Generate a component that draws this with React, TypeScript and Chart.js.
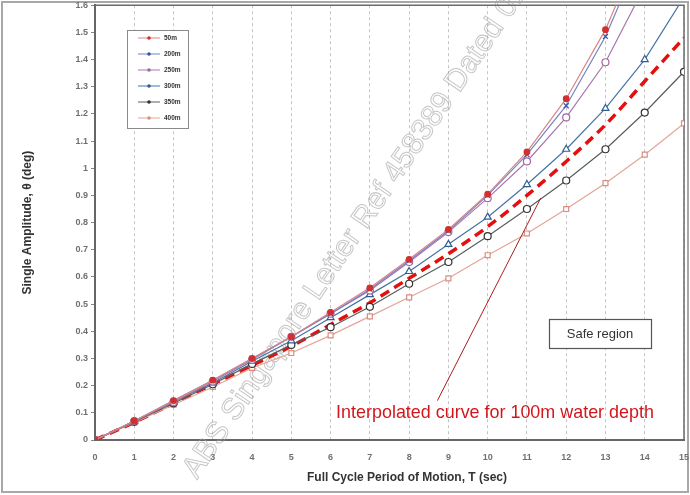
import React, { useEffect, useRef } from 'react';
import { Chart, registerables } from 'chart.js';
Chart.register(...registerables);

const periods = [0, 1, 2, 3, 4, 5, 6, 7, 8, 9, 10, 11, 12, 13, 14, 15];
const depthLabels = ['50m', '200m', '250m', '300m', '350m', '400m'];
const amp50 = [0, 0.07, 0.145, 0.22, 0.30, 0.38, 0.47, 0.56, 0.665, 0.775, 0.905, 1.06, 1.256, 1.51, 1.85];
const amp200 = [0, 0.07, 0.145, 0.22, 0.30, 0.38, 0.465, 0.555, 0.66, 0.77, 0.90, 1.05, 1.23, 1.485, 1.82];
const amp250 = [0, 0.07, 0.14, 0.215, 0.295, 0.38, 0.465, 0.55, 0.655, 0.765, 0.89, 1.025, 1.187, 1.39, 1.67];
const amp300 = [0, 0.068, 0.14, 0.21, 0.29, 0.365, 0.45, 0.535, 0.62, 0.72, 0.82, 0.94, 1.07, 1.22, 1.40, 1.63];
const amp350 = [0, 0.067, 0.135, 0.205, 0.28, 0.35, 0.415, 0.49, 0.575, 0.655, 0.75, 0.85, 0.955, 1.07, 1.205, 1.355];
const amp400 = [0, 0.065, 0.13, 0.195, 0.265, 0.32, 0.385, 0.455, 0.525, 0.595, 0.68, 0.76, 0.85, 0.945, 1.05, 1.165];
const amp100Interp = [0, 0.065, 0.135, 0.205, 0.275, 0.345, 0.425, 0.505, 0.595, 0.685, 0.785, 0.90, 1.025, 1.16, 1.32, 1.48];

const yTickValues = [0, 0.1, 0.2, 0.3, 0.4, 0.5, 0.6, 0.7, 0.8, 0.9, 1, 1.1, 1.2, 1.3, 1.4, 1.5, 1.6];
const yTickLabels = ['0', '0.1', '0.2', '0.3', '0.4', '0.5', '0.6', '0.7', '0.8', '0.9', '1', '1.1', '1.2', '1.3', '1.4', '1.5', '1.6'];
const xTickLabels = ['0', '1', '2', '3', '4', '5', '6', '7', '8', '9', '10', '11', '12', '13', '14', '15'];

const xTitle = 'Full Cycle Period of Motion, T (sec)';
const yTitle = 'Single Amplitude, \u03B8 (deg)';
const interpNote = 'Interpolated curve for 100m water depth';
const safeNote = 'Safe region';
const watermark = 'ABS Singapore Letter Ref 458389 Dated 01';

const seriesStyles = [
  { line: '#d98585', pt: '#d23030', fill: '#d23030', style: 'circle', r: 2.8 },
  { line: '#7484c2', pt: '#3555a5', fill: '#3555a5', style: 'crossRot', r: 3.5 },
  { line: '#a876ae', pt: '#a565a5', fill: '#ffffff', style: 'circle', r: 3.5 },
  { line: '#4674a4', pt: '#2f5f92', fill: '#ffffff', style: 'triangle', r: 4 },
  { line: '#56605f', pt: '#333333', fill: '#ffffff', style: 'circle', r: 3.5 },
  { line: '#e3a696', pt: '#d98e7e', fill: '#ffffff', style: 'rect', r: 3.5 },
];

export default function App() {
  const ref = useRef<HTMLCanvasElement>(null);
  useEffect(() => {
    const toPts = (vals: number[]) => vals.map((v, i) => ({ x: periods[i], y: v }));
    const all = [amp50, amp200, amp250, amp300, amp350, amp400];
    const datasets: any[] = all.map((vals, i) => ({
      label: depthLabels[i],
      data: toPts(vals),
      borderColor: seriesStyles[i].line,
      borderWidth: 1.2,
      pointStyle: seriesStyles[i].style,
      pointRadius: seriesStyles[i].r,
      pointBorderColor: seriesStyles[i].pt,
      pointBackgroundColor: seriesStyles[i].fill,
      pointBorderWidth: 1.2,
      tension: 0,
      fill: false,
    }));
    datasets.push({
      label: '100m (interpolated)',
      data: toPts(amp100Interp),
      borderColor: '#e31010',
      borderWidth: 3.5,
      borderDash: [10, 6],
      pointRadius: 0,
      tension: 0.35,
      cubicInterpolationMode: 'monotone',
      fill: false,
    });

    const decor = {
      id: 'decor',
      beforeDraw(chart: any) {
        const ctx = chart.ctx;
        ctx.save();
        ctx.fillStyle = '#ffffff';
        ctx.fillRect(0, 0, chart.width, chart.height);
        ctx.strokeStyle = '#a8a8a8';
        ctx.lineWidth = 2;
        ctx.strokeRect(2, 2, chart.width - 4, chart.height - 5);
        ctx.restore();
      },
      beforeDatasetsDraw(chart: any) {
        const ctx = chart.ctx;
        const a = chart.chartArea;
        ctx.save();
        ctx.translate(197, 480);
        ctx.rotate(-Math.atan2(460, 312));
        ctx.font = '30px Arial';
        const w = ctx.measureText('ABS Singapore Letter Ref 458389 Dated').width;
        const size = (30 * 548) / w;
        ctx.font = `${size}px Arial`;
        ctx.strokeStyle = 'rgba(160,160,160,0.6)';
        ctx.lineWidth = 1;
        ctx.textBaseline = 'alphabetic';
        ctx.strokeText(watermark, 0, 0);
        ctx.restore();
        ctx.save();
        ctx.strokeStyle = '#6a6a6a';
        ctx.lineWidth = 1.5;
        ctx.beginPath();
        ctx.moveTo(a.left, a.top);
        ctx.lineTo(a.right, a.top);
        ctx.lineTo(a.right, a.bottom);
        ctx.stroke();
        ctx.restore();
      },
      afterDatasetsDraw(chart: any) {
        const ctx = chart.ctx;
        const xs = chart.scales.x;
        const ys = chart.scales.y;
        ctx.save();
        ctx.fillStyle = '#ffffff';
        ctx.fillRect(127, 30, 61, 98);
        ctx.strokeStyle = '#8a8a8a';
        ctx.lineWidth = 1;
        ctx.strokeRect(127.5, 30.5, 61, 98);
        chart.data.datasets.slice(0, 6).forEach((ds: any, i: number) => {
          const y = 38 + 16 * i;
          ctx.strokeStyle = ds.borderColor;
          ctx.lineWidth = 1;
          ctx.beginPath();
          ctx.moveTo(138, y);
          ctx.lineTo(160, y);
          ctx.stroke();
          ctx.fillStyle = ds.pointBorderColor;
          ctx.beginPath();
          ctx.arc(149, y, 1.8, 0, Math.PI * 2);
          ctx.fill();
          ctx.fillStyle = '#333333';
          ctx.font = 'bold 6.5px Arial';
          ctx.textAlign = 'left';
          ctx.textBaseline = 'middle';
          ctx.fillText(ds.label, 164, y);
        });
        ctx.fillStyle = '#ffffff';
        ctx.fillRect(549, 319, 102, 29);
        ctx.strokeStyle = '#555555';
        ctx.lineWidth = 1.2;
        ctx.strokeRect(549.5, 319.5, 102, 29);
        ctx.fillStyle = '#333333';
        ctx.font = '13px Arial';
        ctx.textAlign = 'center';
        ctx.textBaseline = 'middle';
        ctx.fillText(safeNote, 600, 334);
        ctx.strokeStyle = '#a82020';
        ctx.lineWidth = 1;
        ctx.beginPath();
        ctx.moveTo(xs.getPixelForValue(8.72), ys.getPixelForValue(0.145));
        ctx.lineTo(xs.getPixelForValue(11.35), ys.getPixelForValue(0.89));
        ctx.stroke();
        ctx.font = '15px Arial';
        const tw = ctx.measureText(interpNote).width;
        ctx.font = `${(15 * 318) / tw}px Arial`;
        ctx.fillStyle = '#d4161c';
        ctx.textAlign = 'center';
        ctx.textBaseline = 'middle';
        ctx.fillText(interpNote, 495, 413);
        ctx.fillStyle = '#333333';
        ctx.font = 'bold 12px Arial';
        ctx.fillText(xTitle, 407, 478);
        ctx.restore();
      },
    };

    const chart = new Chart(ref.current as HTMLCanvasElement, {
      type: 'line',
      data: { datasets },
      options: {
        animation: false,
        responsive: false,
        layout: { padding: { top: 4, right: 6, left: 0, bottom: 0 } },
        plugins: { legend: { display: false }, tooltip: { enabled: false } },
        scales: {
          x: {
            type: 'linear',
            min: 0,
            max: 15,
            afterBuildTicks: (s: any) => {
              s.ticks = periods.map((v) => ({ value: v }));
            },
            afterFit: (s: any) => {
              s.height = 55;
              s.paddingLeft = 0;
              s.paddingRight = 0;
            },
            ticks: {
              callback: (v: any) => xTickLabels[periods.indexOf(Number(v))],
              font: { family: 'Arial', size: 9, weight: 'bold' },
              color: '#707070',
              padding: 12,
              maxRotation: 0,
              autoSkip: false,
            },
            grid: { color: '#c4c4c4', lineWidth: 1, drawTicks: false },
            border: { color: '#666666', width: 2, dash: [3, 3] },
          },
          y: {
            min: 0,
            max: 1.6,
            afterBuildTicks: (s: any) => {
              s.ticks = yTickValues.map((v) => ({ value: v }));
            },
            afterFit: (s: any) => {
              s.width = 95;
              s.paddingTop = 0;
              s.paddingBottom = 0;
            },
            ticks: {
              callback: (v: any, i: number) => yTickLabels[i],
              font: { family: 'Arial', size: 9, weight: 'bold' },
              color: '#707070',
              padding: 3,
              autoSkip: false,
            },
            grid: { drawOnChartArea: false, drawTicks: true, tickLength: 4, color: '#888888' },
            border: { color: '#666666', width: 2 },
            title: {
              display: true,
              text: yTitle,
              font: { family: 'Arial', size: 12, weight: 'bold' },
              color: '#333333',
              padding: { top: 20, bottom: 0 },
            },
          },
        },
      },
      plugins: [decor],
    } as any);
    return () => chart.destroy();
  }, []);
  return (
    <div style={{ position: 'fixed', left: 0, top: 0, width: 690, height: 495, background: '#fff' }}>
      <canvas ref={ref} width={690} height={495} style={{ display: 'block' }} />
    </div>
  );
}
